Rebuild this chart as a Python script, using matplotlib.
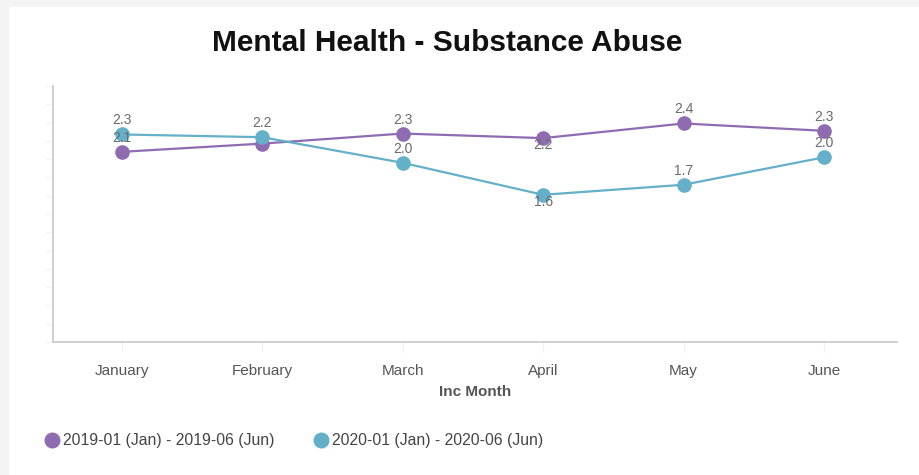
import matplotlib
matplotlib.use("Agg")
import matplotlib.pyplot as plt
from matplotlib.patches import Rectangle

months = ["January", "February", "March", "April", "May", "June"]
series_2019 = [2.08, 2.17, 2.28, 2.23, 2.39, 2.31]
series_2020 = [2.27, 2.24, 1.96, 1.61, 1.72, 2.02]
label_2019 = "2019-01 (Jan) - 2019-06 (Jun)"
label_2020 = "2020-01 (Jan) - 2020-06 (Jun)"
# which data labels are shown, and where (1 = above, -1 = below)
show_2019 = [True, False, True, True, True, True]
pos_2019 = [1, 1, 1, -1, 1, 1]
show_2020 = [True, True, True, True, True, True]
pos_2020 = [1, 1, 1, -1, 1, 1]
title = "Mental Health - Substance Abuse"
xlabel = "Inc Month"

PURPLE = "#8f6cb2"
TEAL = "#63b0c8"
FONT = ["Liberation Sans", "DejaVu Sans"]
plt.rcParams["font.family"] = FONT

fig = plt.figure(figsize=(9.2, 4.75), dpi=100, facecolor="#f4f4f4")
fig.patches.append(Rectangle((9 / 920, 0), 1, 1 - 7 / 475, transform=fig.transFigure,
                             facecolor="white", edgecolor="none", zorder=-5))

ax = fig.add_axes([53 / 920, 1 - 342 / 475, (897 - 53) / 920, (342 - 86) / 475])
ax.set_zorder(2)
ax.set_facecolor("white")
x = list(range(len(months)))

for vals, color, show, pos, lab in [
    (series_2019, PURPLE, show_2019, pos_2019, label_2019),
    (series_2020, TEAL, show_2020, pos_2020, label_2020),
]:
    ax.plot(x, vals, color=color, lw=1.6, marker="o", ms=9.5, mec=color, mfc=color,
            label=lab, zorder=3)
    for xi, v, s, p in zip(x, vals, show, pos):
        if not s:
            continue
        off = 14 if p > 0 else -7
        ax.annotate(f"{v:.1f}", (xi, v), xytext=(0, off), textcoords="offset pixels",
                    ha="center", va="center", fontsize=10, color="#6a6a6a", zorder=4)

ax.set_xlim(-0.49, 5.52)
ax.set_ylim(0, 2.8)
ax.set_yticks([i * 0.2 for i in range(15)])
ax.set_yticklabels([])
ax.tick_params(axis="y", length=6, color="#f3f3f3", width=0.8)
ax.set_xticks(x)
ax.set_xticklabels(months, fontsize=11, color="#555555")
ax.tick_params(axis="x", length=7, color="#f0f0f0", width=0.8, pad=9)
ax.set_xlabel(xlabel, fontsize=11, fontweight="bold", color="#555555", labelpad=5)

for side in ["top", "right"]:
    ax.spines[side].set_visible(False)
for side in ["left", "bottom"]:
    ax.spines[side].set_color("#cccccc")
    ax.spines[side].set_linewidth(1.3)

fig.text(447 / 920, 1 - 43 / 475, title, ha="center", va="center",
         fontsize=21.5, fontweight="bold", color="#111111")

leg = fig.legend(loc="center left", bbox_to_anchor=(31 / 920, 1 - 441 / 475), ncol=2,
                 frameon=False, fontsize=11.3, handlelength=0.9, handletextpad=0.25,
                 columnspacing=2.5, labelcolor="#444444")
for h in leg.legend_handles:
    h.set_linestyle("none")
    h.set_markersize(10.5)

fig.savefig("out.png", dpi=100, facecolor=fig.get_facecolor())
